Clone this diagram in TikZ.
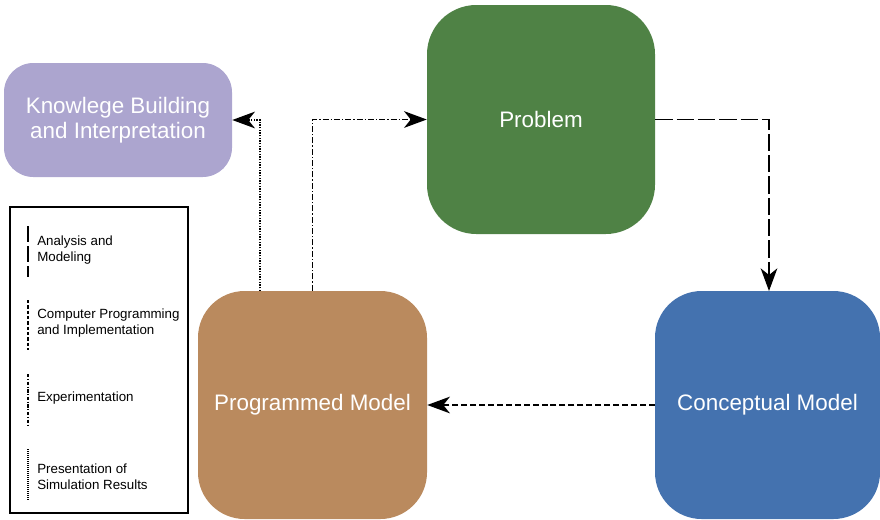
\documentclass[tikz,border=0pt]{standalone}
\usepackage{fontspec}
\setmainfont{Liberation Sans}
\usetikzlibrary{arrows.meta}

\definecolor{knowcol}{HTML}{ACA5CF}
\definecolor{probcol}{HTML}{4F8245}
\definecolor{conccol}{HTML}{4472AF}
\definecolor{progcol}{HTML}{BA8A5E}

\tikzset{
  block/.style={rectangle, draw=none, text=white, align=center,
    font=\fontsize{16.8}{18.5}\selectfont, inner sep=0pt},
  link/.style={line width=1.1pt, -{Stealth[length=17pt,width=12.5pt,inset=5pt]}},
  analysis/.style={dash pattern=on 13pt off 3pt},
  programming/.style={dash pattern=on 4.5pt off 2.2pt},
  experiment/.style={dash pattern=on 4.5pt off 1.5pt on 1pt off 1.5pt},
  presentation/.style={dash pattern=on 1pt off 1pt},
  legline/.style={line width=2pt},
  legtext/.style={anchor=west, align=left, inner sep=0pt,
    font=\fontsize{10}{12.2}\selectfont}
}

\begin{document}
\begin{tikzpicture}[x=0.75pt,y=-0.75pt]
  \useasboundingbox (0,0) rectangle (880,519);

  % process blocks
  \node[block, fill=knowcol, minimum width=228pt*0.75, minimum height=114pt*0.75,
        rounded corners=22pt] (know) at (118,120)
        {Knowlege Building\\and Interpretation};
  \node[block, fill=probcol, minimum width=228pt*0.75, minimum height=229pt*0.75,
        rounded corners=37pt] (prob) at (541,119.5) {Problem};
  \node[block, fill=conccol, minimum width=225pt*0.75, minimum height=228pt*0.75,
        rounded corners=35pt] (concept) at (767.5,405) {Conceptual Model};
  \node[block, fill=progcol, minimum width=229pt*0.75, minimum height=228pt*0.75,
        rounded corners=35pt] (prog) at (312.5,405) {Programmed Model};

  % connectors
  \coordinate (analysisTurn) at (769,119.5);
  \coordinate (analysisEnd) at (769,291);
  \draw[link, analysis] (prob.east) -- (analysisTurn) -- (analysisEnd);
  \draw[link, programming] (concept.west) -- (prog.east);
  \draw[link, experiment] (prog.north) |- (prob.west);
  \coordinate (presStart) at (260,291);
  \draw[link, presentation] (presStart) |- (know.east);

  % legend
  \draw[line width=1.5pt] (10,207) rectangle (188,513);
  \coordinate (la1) at (28,226); \coordinate (la2) at (28,277);
  \coordinate (lb1) at (28,300); \coordinate (lb2) at (28,350);
  \coordinate (lc1) at (28,374); \coordinate (lc2) at (28,425);
  \coordinate (ld1) at (28,449); \coordinate (ld2) at (28,500);
  \draw[legline, dash pattern=on 12pt off 3pt] (la1) -- (la2);
  \draw[legline, dash pattern=on 2.5pt off 1.5pt] (lb1) -- (lb2);
  \draw[legline, dash pattern=on 2.5pt off 1.2pt on 0.8pt off 1.2pt] (lc1) -- (lc2);
  \draw[legline, dash pattern=on 0.8pt off 0.7pt] (ld1) -- (ld2);
  \node[legtext] (ta) at (37,250) {Analysis and\\Modeling};
  \node[legtext] (tb) at (37,323) {Computer Programming\\and Implementation};
  \node[legtext] (tc) at (37,398) {Experimentation};
  \node[legtext] (td) at (37,477) {Presentation of\\Simulation Results};
\end{tikzpicture}
\end{document}
